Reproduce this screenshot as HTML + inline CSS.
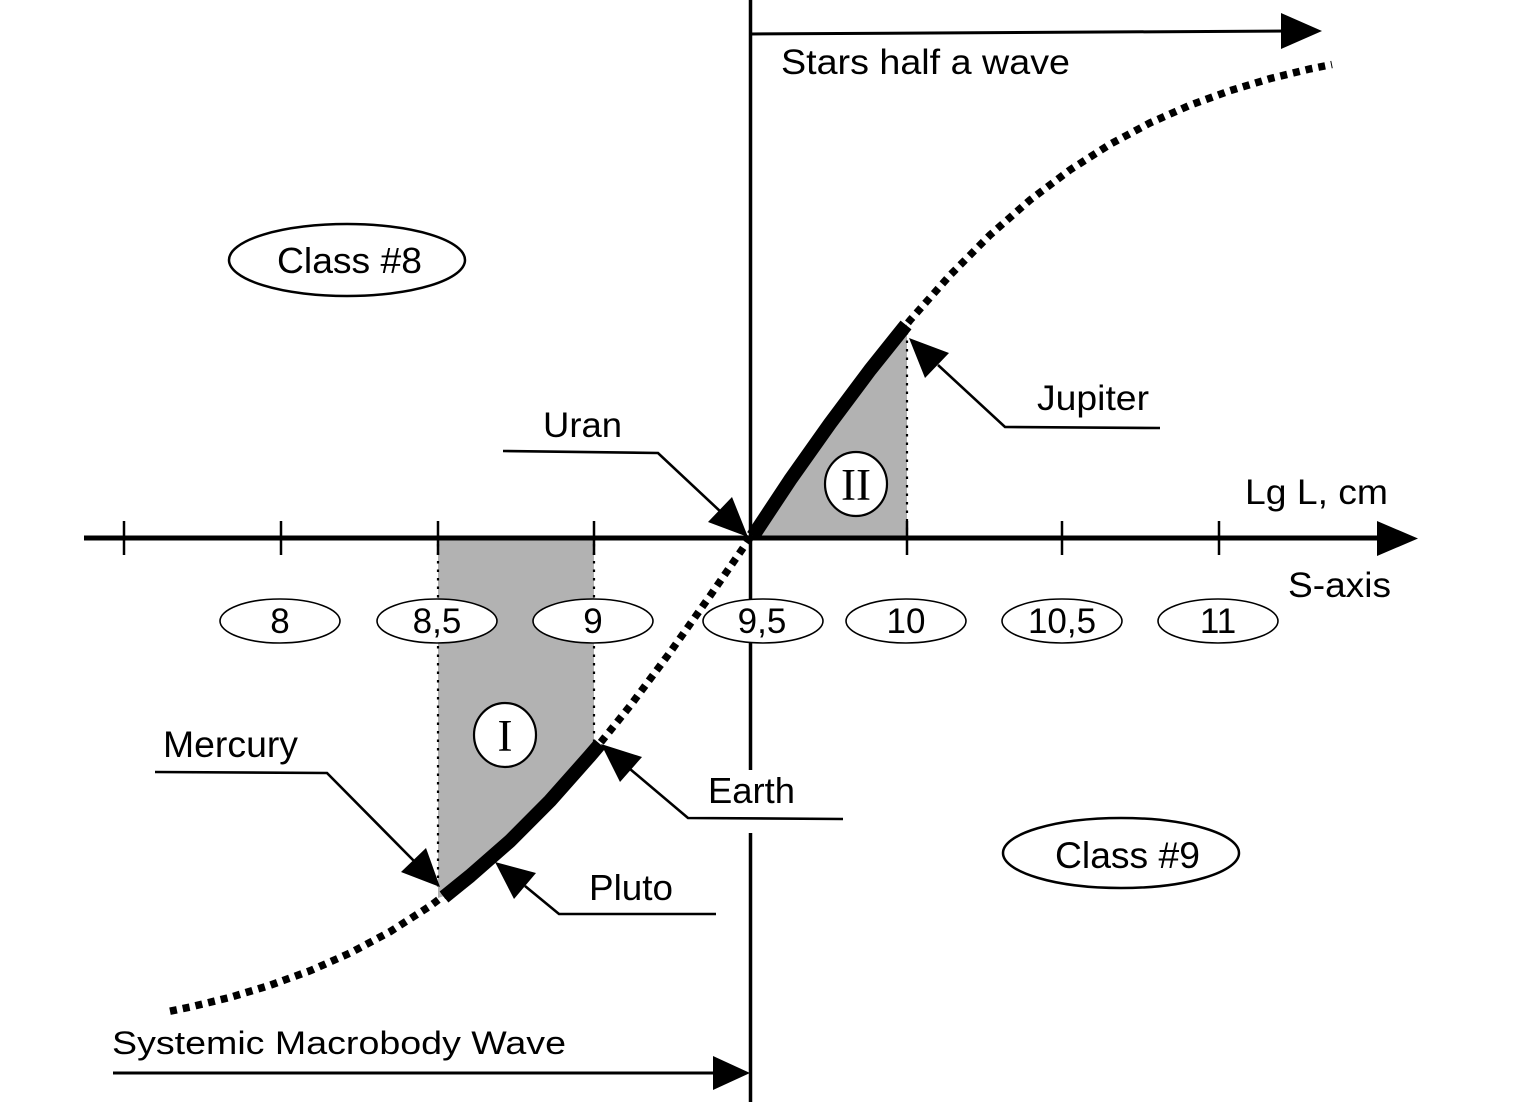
<!DOCTYPE html>
<html>
<head>
<meta charset="utf-8">
<style>
  html, body { margin: 0; padding: 0; background: #fff; }
  svg { display: block; }
  text { font-family: "Liberation Sans", Arial, sans-serif; fill: #000; }
  .rom { font-family: "Liberation Serif", "Times New Roman", serif; }
</style>
</head>
<body>
<svg width="1535" height="1105" viewBox="0 0 1535 1105" xmlns="http://www.w3.org/2000/svg">
  <rect x="0" y="0" width="1535" height="1105" fill="#fff"/>

  <!-- Grey regions -->
  <polygon points="438,538 438,898 444,896 470,876 510,841 550,800.8 590,755.7 594,750 594,538" fill="#b2b2b2"/>
  <polygon points="752,538 790,480.1 830,423.6 870,370 907,324 907,538" fill="#b2b2b2"/>

  <!-- Dotted vertical boundaries -->
  <g stroke="#000" stroke-width="2.2" stroke-dasharray="2.5 6" fill="none">
    <line x1="438" y1="544" x2="438" y2="890"/>
    <line x1="594" y1="544" x2="594" y2="745"/>
    <line x1="907" y1="332" x2="907" y2="536"/>
  </g>

  <!-- Vertical axis (with gap behind "Earth") -->
  <line x1="750.5" y1="0" x2="750.5" y2="770" stroke="#000" stroke-width="3.5"/>
  <line x1="750.5" y1="833" x2="750.5" y2="1102" stroke="#000" stroke-width="3.5"/>

  <!-- Horizontal axis -->
  <line x1="84" y1="538" x2="1385" y2="538" stroke="#000" stroke-width="5"/>
  <polygon points="1377,521 1418,538.5 1377,556" fill="#000"/>
  <g stroke="#000" stroke-width="2.5">
    <line x1="124" y1="521" x2="124" y2="555"/>
    <line x1="281" y1="521" x2="281" y2="555"/>
    <line x1="438" y1="521" x2="438" y2="555"/>
    <line x1="594" y1="521" x2="594" y2="555"/>
    <line x1="907" y1="521" x2="907" y2="555"/>
    <line x1="1062" y1="521" x2="1062" y2="555"/>
    <line x1="1219" y1="521" x2="1219" y2="555"/>
  </g>

  <!-- Top arrow -->
  <line x1="750" y1="34" x2="1290" y2="31" stroke="#000" stroke-width="3"/>
  <polygon points="1281,13 1322,31 1281,49" fill="#000"/>

  <!-- Bottom arrow -->
  <line x1="113" y1="1073" x2="718" y2="1073" stroke="#000" stroke-width="3"/>
  <polygon points="713,1056 750,1073 713,1090" fill="#000"/>

  <!-- Dotted S-curve -->
  <polyline fill="none" stroke="#000" stroke-width="7.5" stroke-dasharray="7 6"
    points="170,1011.2 190,1007.1 230,997.4 270,985.3 310,970.8 350,953.1 390,931.7 430,906.1 470,876 510,841 550,800.8 590,755.7 630,706 670,652.4 710,595.9 750,538 790,480.1 830,423.6 870,370 910,320.3 950,275.2 990,235 1030,200 1070,169.9 1110,144.3 1150,122.9 1190,105.2 1230,90.7 1270,78.6 1310,68.9 1332,64.5"/>

  <!-- Thick segments -->
  <polyline fill="none" stroke="#000" stroke-width="14" stroke-linejoin="round"
    points="444,897 470,876 510,841 550,800.8 590,755.7 600,744"/>
  <polyline fill="none" stroke="#000" stroke-width="14" stroke-linejoin="round"
    points="753,536 790,480.1 830,423.6 870,370 906,325"/>

  <!-- Number ellipses -->
  <g fill="#fff" stroke="#000" stroke-width="1.6">
    <ellipse cx="280" cy="621" rx="60" ry="22"/>
    <ellipse cx="437" cy="621" rx="60" ry="22"/>
    <ellipse cx="593" cy="621" rx="60" ry="22"/>
    <ellipse cx="763" cy="621" rx="60" ry="22"/>
    <ellipse cx="906" cy="621" rx="60" ry="22"/>
    <ellipse cx="1062" cy="621" rx="60" ry="22"/>
    <ellipse cx="1218" cy="621" rx="60" ry="22"/>
  </g>
  <g font-size="35" text-anchor="middle">
    <text x="280" y="633">8</text>
    <text x="437" y="633">8,5</text>
    <text x="593" y="633">9</text>
    <text x="762" y="633">9,5</text>
    <text x="906" y="633">10</text>
    <text x="1062" y="633">10,5</text>
    <text x="1218" y="633">11</text>
  </g>

  <!-- Class ellipses -->
  <ellipse cx="347" cy="260" rx="118" ry="36" fill="#fff" stroke="#000" stroke-width="2.5"/>
  <ellipse cx="1121" cy="853" rx="118" ry="35" fill="#fff" stroke="#000" stroke-width="2.5"/>
  <text x="277" y="273" font-size="36" textLength="145" lengthAdjust="spacingAndGlyphs">Class #8</text>
  <text x="1055" y="868" font-size="37" textLength="145" lengthAdjust="spacingAndGlyphs">Class #9</text>

  <!-- Roman numeral circles -->
  <ellipse cx="505" cy="735" rx="31" ry="32" fill="#fff" stroke="#000" stroke-width="2.2"/>
  <ellipse cx="856" cy="484" rx="31" ry="32" fill="#fff" stroke="#000" stroke-width="2.2"/>
  <text class="rom" x="505" y="751" font-size="45" text-anchor="middle">I</text>
  <text class="rom" x="856" y="500" font-size="45" text-anchor="middle">II</text>

  <!-- Callouts -->
  <g fill="none" stroke="#000" stroke-width="2.6">
    <polyline points="503,451 658,453 722,513"/>
    <polyline points="1160,428 1005,427 938,365"/>
    <polyline points="155,772 327,773 414,861"/>
    <polyline points="843,819 688,818 630,769"/>
    <polyline points="716,914 559,914 525,886"/>
  </g>
  <g fill="#000">
    <polygon points="748,537 708,522 732,497"/>
    <polygon points="909,338 949,353 925,378"/>
    <polygon points="440,887 401,872 426,848"/>
    <polygon points="601,744 642,757 620,782"/>
    <polygon points="495,862 536,873 514,899"/>
  </g>

  <!-- Labels -->
  <text x="781" y="74" font-size="35" textLength="289" lengthAdjust="spacingAndGlyphs">Stars half a wave</text>
  <text x="112" y="1054" font-size="32" textLength="454" lengthAdjust="spacingAndGlyphs">Systemic Macrobody Wave</text>
  <text x="543" y="437" font-size="35" textLength="79" lengthAdjust="spacingAndGlyphs">Uran</text>
  <text x="1037" y="410" font-size="35" textLength="112" lengthAdjust="spacingAndGlyphs">Jupiter</text>
  <text x="1245" y="504" font-size="35" textLength="143" lengthAdjust="spacingAndGlyphs">Lg L, cm</text>
  <text x="1288" y="597" font-size="35" textLength="103" lengthAdjust="spacingAndGlyphs">S-axis</text>
  <text x="163" y="757" font-size="37" textLength="135" lengthAdjust="spacingAndGlyphs">Mercury</text>
  <text x="708" y="803" font-size="36" textLength="87" lengthAdjust="spacingAndGlyphs">Earth</text>
  <text x="589" y="900" font-size="36" textLength="84" lengthAdjust="spacingAndGlyphs">Pluto</text>
</svg>
</body>
</html>
